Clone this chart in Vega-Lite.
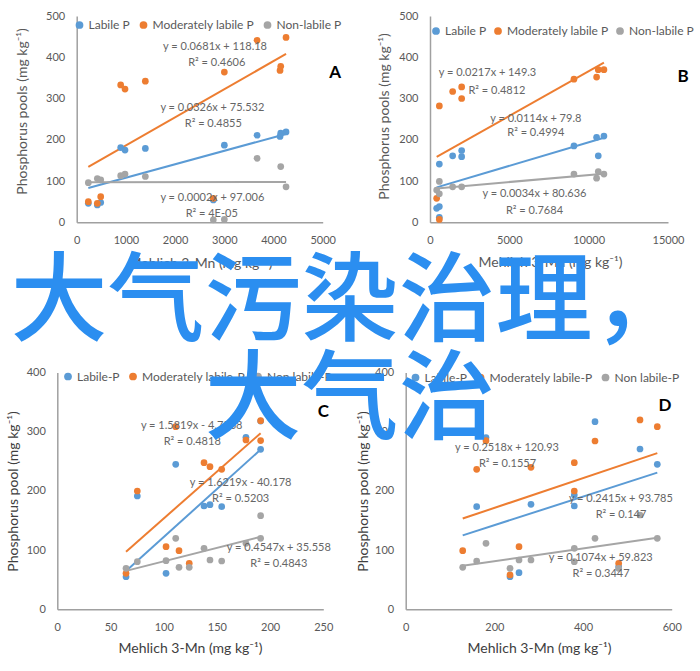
{
"$schema":"https://vega.github.io/schema/vega-lite/v6.json",
"width":700,"height":671,"autosize":{"type":"none"},"padding":0,
"background":"white",
"title":{"text":["大气污染治理，","大气治"],"font":"Noto Sans CJK SC","fontSize":97,"fontWeight":500,"color":"#2b8ef0","anchor":"middle","frame":"group","baseline":"top","offset":0,"dy":451,"lineHeight":98,"zindex":1},
"config":{"view":{"stroke":null},
 "axis":{"grid":false,"ticks":false,"tickSize":0,"domainColor":"#a0a0a0","domainWidth":1.5,"labelFont":"Lato","labelFontSize":11,"labelColor":"#595959","labelPadding":12,"labelOverlap":false,"labelFlush":false,"titleFont":"Lato","titleFontSize":14,"titleFontWeight":"normal","titleColor":"#595959","titleBaseline":"middle"},
 "legend":{"orient":"none","direction":"horizontal","symbolType":"circle","symbolSize":60,"labelFont":"Lato","labelFontSize":12,"labelColor":"#595959","columnPadding":7,"labelOffset":3,"padding":0}},
"datasets":{
"A_pts":[
{"s":"Labile P","x":236,"y":46},{"s":"Labile P","x":419,"y":42},{"s":"Labile P","x":488,"y":48},{"s":"Labile P","x":894,"y":181},{"s":"Labile P","x":982,"y":175},{"s":"Labile P","x":1395,"y":179},{"s":"Labile P","x":2777,"y":54},{"s":"Labile P","x":3001,"y":187},{"s":"Labile P","x":3666,"y":211},{"s":"Labile P","x":4133,"y":208},{"s":"Labile P","x":4147,"y":216},{"s":"Labile P","x":4255,"y":219},
{"s":"Moderately labile P","x":236,"y":50},{"s":"Moderately labile P","x":419,"y":46},{"s":"Moderately labile P","x":488,"y":62},{"s":"Moderately labile P","x":894,"y":333},{"s":"Moderately labile P","x":982,"y":323},{"s":"Moderately labile P","x":1395,"y":342},{"s":"Moderately labile P","x":2777,"y":58},{"s":"Moderately labile P","x":3001,"y":364},{"s":"Moderately labile P","x":3666,"y":441},{"s":"Moderately labile P","x":4133,"y":368},{"s":"Moderately labile P","x":4147,"y":378},{"s":"Moderately labile P","x":4255,"y":448},
{"s":"Non-labile P","x":236,"y":96},{"s":"Non-labile P","x":419,"y":106},{"s":"Non-labile P","x":488,"y":103},{"s":"Non-labile P","x":894,"y":113},{"s":"Non-labile P","x":982,"y":117},{"s":"Non-labile P","x":1395,"y":111},{"s":"Non-labile P","x":2777,"y":6},{"s":"Non-labile P","x":3001,"y":7},{"s":"Non-labile P","x":3666,"y":155},{"s":"Non-labile P","x":4147,"y":135},{"s":"Non-labile P","x":4255,"y":86}],
"A_fit":[
{"s":"Labile P","x":236,"y":83.2},{"s":"Labile P","x":4255,"y":214.2},
{"s":"Moderately labile P","x":236,"y":134.3},{"s":"Moderately labile P","x":4255,"y":408},
{"s":"Non-labile P","x":236,"y":97.05},{"s":"Non-labile P","x":4255,"y":97.9}],
"A_eq":[
{"t":"y = 0.0681x + 118.18","x":2812,"y":426},{"t":"R² = 0.4606","x":2846,"y":386},
{"t":"y = 0.0326x + 75.532","x":2757,"y":277},{"t":"R² = 0.4855","x":2777,"y":238},
{"t":"y = 0.0002x + 97.006","x":2757,"y":58},{"t":"R² = 4E-05","x":2744,"y":19}],
"A_tag":[{"t":"A","x":5251,"y":362}],
"B_pts":[
{"s":"Labile P","x":420,"y":34},{"s":"Labile P","x":588,"y":38},{"s":"Labile P","x":588,"y":12},{"s":"Labile P","x":588,"y":141},{"s":"Labile P","x":1428,"y":161},{"s":"Labile P","x":1995,"y":174},{"s":"Labile P","x":1995,"y":159},{"s":"Labile P","x":9072,"y":185},{"s":"Labile P","x":10500,"y":206},{"s":"Labile P","x":10605,"y":161},{"s":"Labile P","x":10962,"y":209},
{"s":"Moderately labile P","x":420,"y":58},{"s":"Moderately labile P","x":588,"y":7},{"s":"Moderately labile P","x":588,"y":282},{"s":"Moderately labile P","x":1428,"y":317},{"s":"Moderately labile P","x":1995,"y":328},{"s":"Moderately labile P","x":1995,"y":300},{"s":"Moderately labile P","x":9072,"y":347},{"s":"Moderately labile P","x":10500,"y":352},{"s":"Moderately labile P","x":10605,"y":370},{"s":"Moderately labile P","x":10962,"y":370},
{"s":"Non-labile P","x":420,"y":78},{"s":"Non-labile P","x":588,"y":99},{"s":"Non-labile P","x":588,"y":69},{"s":"Non-labile P","x":1428,"y":86},{"s":"Non-labile P","x":1995,"y":86},{"s":"Non-labile P","x":9072,"y":117},{"s":"Non-labile P","x":10500,"y":107},{"s":"Non-labile P","x":10605,"y":123},{"s":"Non-labile P","x":10962,"y":117}],
"B_fit":[
{"s":"Labile P","x":420,"y":84.6},{"s":"Labile P","x":10962,"y":204.8},
{"s":"Moderately labile P","x":420,"y":158.4},{"s":"Moderately labile P","x":10962,"y":387.2},
{"s":"Non-labile P","x":420,"y":82.1},{"s":"Non-labile P","x":10962,"y":117.9}],
"B_eq":[
{"t":"y = 0.0217x + 149.3","x":3623,"y":361},{"t":"R² = 0.4812","x":4220,"y":319},
{"t":"y = 0.0114x + 79.8","x":6667,"y":251},{"t":"R² = 0.4994","x":6667,"y":216},
{"t":"y = 0.0034x + 80.636","x":6584,"y":68},{"t":"R² = 0.7684","x":6584,"y":27}],
"B_tag":[{"t":"B","x":15958,"y":352}],
"C_pts":[
{"s":"Labile-P","x":64.6,"y":55},{"s":"Labile-P","x":75.2,"y":191.4},{"s":"Labile-P","x":102.2,"y":60.8},{"s":"Labile-P","x":111.3,"y":244.9},{"s":"Labile-P","x":137.9,"y":174.5},{"s":"Labile-P","x":143.5,"y":176.7},{"s":"Labile-P","x":154.5,"y":173.3},{"s":"Labile-P","x":177.3,"y":290.5},{"s":"Labile-P","x":191.1,"y":270.3},{"s":"Labile-P","x":191.1,"y":318},
{"s":"Moderately labile-P","x":64.6,"y":60.8},{"s":"Moderately labile-P","x":75.2,"y":199.8},{"s":"Moderately labile-P","x":102.2,"y":105.8},{"s":"Moderately labile-P","x":111.3,"y":308.5},{"s":"Moderately labile-P","x":114.4,"y":99},{"s":"Moderately labile-P","x":124,"y":77.7},{"s":"Moderately labile-P","x":137.9,"y":247.7},{"s":"Moderately labile-P","x":143.5,"y":240.9},{"s":"Moderately labile-P","x":154.5,"y":236.5},{"s":"Moderately labile-P","x":177.3,"y":286},{"s":"Moderately labile-P","x":191.1,"y":318.6},{"s":"Moderately labile-P","x":191.1,"y":285},
{"s":"Non labile-P","x":64.6,"y":69.2},{"s":"Non labile-P","x":75.2,"y":80.4},{"s":"Non labile-P","x":102.2,"y":82.1},{"s":"Non labile-P","x":111.3,"y":119.9},{"s":"Non labile-P","x":114.4,"y":70.9},{"s":"Non labile-P","x":124,"y":70.9},{"s":"Non labile-P","x":137.9,"y":103},{"s":"Non labile-P","x":143.5,"y":83.3},{"s":"Non labile-P","x":154.5,"y":81.6},{"s":"Non labile-P","x":177.3,"y":111.5},{"s":"Non labile-P","x":191.1,"y":158.1},{"s":"Non labile-P","x":191.1,"y":119.9}],
"C_fit":[
{"s":"Labile-P","x":64.6,"y":64.6},{"s":"Labile-P","x":191.1,"y":269.8},
{"s":"Moderately labile-P","x":64.6,"y":97.4},{"s":"Moderately labile-P","x":191.1,"y":297.5},
{"s":"Non labile-P","x":64.6,"y":64.9},{"s":"Non labile-P","x":191.1,"y":122.5}],
"C_eq":[
{"t":"y = 1.5819x - 4.7568","x":126.3,"y":309.6},{"t":"R² = 0.4818","x":126.8,"y":283},
{"t":"y = 1.6219x - 40.178","x":172.3,"y":212.8},{"t":"R² = 0.5203","x":172.3,"y":186.3},
{"t":"y = 0.4547x + 35.558","x":208.2,"y":104},{"t":"R² = 0.4843","x":208.2,"y":76.5}],
"C_tag":[{"t":"C","x":250,"y":333}],
"D_pts":[
{"s":"Labile-P","x":160.1,"y":173.3},{"s":"Labile-P","x":181.1,"y":290},{"s":"Labile-P","x":235.3,"y":55},{"s":"Labile-P","x":255.6,"y":61.8},{"s":"Labile-P","x":282.6,"y":177.4},{"s":"Labile-P","x":380.3,"y":174.5},{"s":"Labile-P","x":380.3,"y":193},{"s":"Labile-P","x":427,"y":317},{"s":"Labile-P","x":480.4,"y":72},{"s":"Labile-P","x":528.5,"y":270.8},{"s":"Labile-P","x":567.5,"y":244.9},
{"s":"Moderately labile-P","x":128.6,"y":99},{"s":"Moderately labile-P","x":160.1,"y":236.5},{"s":"Moderately labile-P","x":181.1,"y":284.8},{"s":"Moderately labile-P","x":235.3,"y":58},{"s":"Moderately labile-P","x":255.6,"y":105.8},{"s":"Moderately labile-P","x":282.6,"y":239.9},{"s":"Moderately labile-P","x":380.3,"y":247.7},{"s":"Moderately labile-P","x":380.3,"y":199.8},{"s":"Moderately labile-P","x":427,"y":284.3},{"s":"Moderately labile-P","x":480.4,"y":77.7},{"s":"Moderately labile-P","x":528.5,"y":319.8},{"s":"Moderately labile-P","x":567.5,"y":308.5},
{"s":"Non labile-P","x":128.6,"y":70.9},{"s":"Non labile-P","x":160.1,"y":81.6},{"s":"Non labile-P","x":181.1,"y":111.5},{"s":"Non labile-P","x":235.3,"y":69.2},{"s":"Non labile-P","x":255.6,"y":83.3},{"s":"Non labile-P","x":282.6,"y":83.3},{"s":"Non labile-P","x":380.3,"y":103},{"s":"Non labile-P","x":380.3,"y":80.4},{"s":"Non labile-P","x":427,"y":119.9},{"s":"Non labile-P","x":480.4,"y":69.2},{"s":"Non labile-P","x":528.5,"y":159.3},{"s":"Non labile-P","x":567.5,"y":119.9}],
"D_fit":[
{"s":"Labile-P","x":128.6,"y":124.8},{"s":"Labile-P","x":567.5,"y":230.8},
{"s":"Moderately labile-P","x":128.6,"y":153.3},{"s":"Moderately labile-P","x":567.5,"y":263.8},
{"s":"Non labile-P","x":128.6,"y":73.6},{"s":"Non labile-P","x":567.5,"y":120.8}],
"D_eq":[
{"t":"y = 0.2518x + 120.93","x":228.5,"y":273},{"t":"R² = 0.1557","x":229.6,"y":245.4},
{"t":"y = 0.2415x + 93.785","x":485.3,"y":186.3},{"t":"R² = 0.147","x":485.6,"y":159.3},
{"t":"y = 0.1074x + 59.823","x":439.9,"y":86.1},{"t":"R² = 0.3447","x":440.6,"y":59.1}],
"D_tag":[{"t":"D","x":585,"y":343}]
},
"resolve":{"scale":{"x":"independent","y":"independent","color":"independent","stroke":"independent"},"axis":{"x":"independent","y":"independent"},"legend":{"color":"independent","stroke":"independent"}},
"layer":[
{
 "encoding":{
  "x":{"field":"x","type":"quantitative","scale":{"domain":[0,5000],"range":[76.7,322.7],"nice":false,"zero":false},
       "axis":{"orient":"bottom","offset":-448.7,"values":[0,1000,2000,3000,4000,5000],"format":"d","title":"Mehlich 3-Mn (mg kg⁻¹)","titleX":200,"titleY":41}},
  "y":{"field":"y","type":"quantitative","scale":{"domain":[0,500],"range":[222.3,16],"nice":false,"zero":false},
       "axis":{"orient":"left","offset":-76.7,"values":[0,100,200,300,400,500],"format":"d","title":"Phosphorus pools (mg kg⁻¹)","titleX":-54,"titleY":111}}
 },
 "layer":[
  {"data":{"name":"A_fit"},"mark":{"type":"line","strokeWidth":2},"encoding":{"stroke":{"field":"s","type":"nominal","scale":{"range":["#5b9bd5","#ed7d31","#a5a5a5"]},"legend":null}}},
  {"data":{"name":"A_pts"},"mark":{"type":"circle","size":45,"opacity":1},"encoding":{"color":{"field":"s","type":"nominal","scale":{"domain":["Labile P","Moderately labile P","Non-labile P"],"range":["#5b9bd5","#ed7d31","#a5a5a5"]},"legend":{"title":null,"orient":"none","direction":"horizontal","legendX":73.5,"legendY":19,"columnPadding":7}}}},
  {"data":{"name":"A_eq"},"mark":{"type":"text","font":"Lato","fontSize":11,"color":"#666666"},"encoding":{"text":{"field":"t"}}},
  {"data":{"name":"A_tag"},"mark":{"type":"text","font":"Lato","fontSize":17,"fontWeight":"bold","color":"#000000"},"encoding":{"text":{"field":"t"}}}
 ]
},
{
 "encoding":{
  "x":{"field":"x","type":"quantitative","scale":{"domain":[0,15000],"range":[430,668],"nice":false,"zero":false},
       "axis":{"orient":"bottom","offset":-448.7,"values":[0,5000,10000,15000],"format":"d","title":"Mehlich 3-Mn (mg kg⁻¹)","titleX":550,"titleY":40}},
  "y":{"field":"y","type":"quantitative","scale":{"domain":[0,500],"range":[222.3,16],"nice":false,"zero":false},
       "axis":{"orient":"left","offset":-430,"values":[0,100,200,300,400,500],"format":"d","title":"Phosphorus pools (mg kg⁻¹)","titleX":-45.7,"titleY":116}}
 },
 "layer":[
  {"data":{"name":"B_fit"},"mark":{"type":"line","strokeWidth":2},"encoding":{"stroke":{"field":"s","type":"nominal","scale":{"range":["#5b9bd5","#ed7d31","#a5a5a5"]},"legend":null}}},
  {"data":{"name":"B_pts"},"mark":{"type":"circle","size":45,"opacity":1},"encoding":{"color":{"field":"s","type":"nominal","scale":{"domain":["Labile P","Moderately labile P","Non-labile P"],"range":["#5b9bd5","#ed7d31","#a5a5a5"]},"legend":{"title":null,"orient":"none","direction":"horizontal","legendX":430,"legendY":25,"columnPadding":5}}}},
  {"data":{"name":"B_eq"},"mark":{"type":"text","font":"Lato","fontSize":11,"color":"#666666"},"encoding":{"text":{"field":"t"}}},
  {"data":{"name":"B_tag"},"mark":{"type":"text","font":"Lato","fontSize":17,"fontWeight":"bold","color":"#000000"},"encoding":{"text":{"field":"t"}}}
 ]
},
{
 "encoding":{
  "x":{"field":"x","type":"quantitative","scale":{"domain":[0,250],"range":[57.3,323.3],"nice":false,"zero":false},
       "axis":{"orient":"bottom","offset":-61.7,"values":[0,50,100,150,200,250],"format":"d","title":"Mehlich 3-Mn (mg kg⁻¹)","titleX":190,"titleY":39,"titleColor":"#404040"}},
  "y":{"field":"y","type":"quantitative","scale":{"domain":[0,400],"range":[609.3,372.5],"nice":false,"zero":false},
       "axis":{"orient":"left","offset":-57.3,"values":[0,100,200,300,400],"format":"d","title":"Phosphorus pool (mg kg⁻¹)","titleX":-44,"titleY":491,"titleColor":"#404040"}}
 },
 "layer":[
  {"data":{"name":"C_fit"},"mark":{"type":"line","strokeWidth":2},"encoding":{"stroke":{"field":"s","type":"nominal","scale":{"range":["#5b9bd5","#ed7d31","#a5a5a5"]},"legend":null}}},
  {"data":{"name":"C_pts"},"mark":{"type":"circle","size":45,"opacity":1},"encoding":{"color":{"field":"s","type":"nominal","scale":{"domain":["Labile-P","Moderately labile-P","Non labile-P"],"range":["#5b9bd5","#ed7d31","#a5a5a5"]},"legend":{"title":null,"orient":"none","direction":"horizontal","legendX":62,"legendY":370.5}}}},
  {"data":{"name":"C_eq"},"mark":{"type":"text","font":"Lato","fontSize":11,"color":"#666666"},"encoding":{"text":{"field":"t"}}},
  {"data":{"name":"C_tag"},"mark":{"type":"text","font":"Lato","fontSize":17,"fontWeight":"bold","color":"#000000"},"encoding":{"text":{"field":"t"}}}
 ]
},
{
 "encoding":{
  "x":{"field":"x","type":"quantitative","scale":{"domain":[0,600],"range":[405.7,671.7],"nice":false,"zero":false},
       "axis":{"orient":"bottom","offset":-61.7,"values":[0,200,400,600],"format":"d","title":"Mehlich 3-Mn (mg kg⁻¹)","titleX":539,"titleY":39,"titleColor":"#404040"}},
  "y":{"field":"y","type":"quantitative","scale":{"domain":[0,400],"range":[609.3,372.5],"nice":false,"zero":false},
       "axis":{"orient":"left","offset":-405.7,"values":[0,100,200,300,400],"format":"d","title":"Phosphorus pool (mg kg⁻¹)","titleX":-42.4,"titleY":491,"titleColor":"#404040"}}
 },
 "layer":[
  {"data":{"name":"D_fit"},"mark":{"type":"line","strokeWidth":2},"encoding":{"stroke":{"field":"s","type":"nominal","scale":{"range":["#5b9bd5","#ed7d31","#a5a5a5"]},"legend":null}}},
  {"data":{"name":"D_pts"},"mark":{"type":"circle","size":45,"opacity":1},"encoding":{"color":{"field":"s","type":"nominal","scale":{"domain":["Labile-P","Moderately labile-P","Non labile-P"],"range":["#5b9bd5","#ed7d31","#a5a5a5"]},"legend":{"title":null,"orient":"none","direction":"horizontal","legendX":409.5,"legendY":371.5}}}},
  {"data":{"name":"D_eq"},"mark":{"type":"text","font":"Lato","fontSize":11,"color":"#666666"},"encoding":{"text":{"field":"t"}}},
  {"data":{"name":"D_tag"},"mark":{"type":"text","font":"Lato","fontSize":17,"fontWeight":"bold","color":"#000000"},"encoding":{"text":{"field":"t"}}}
 ]
}
]
}
